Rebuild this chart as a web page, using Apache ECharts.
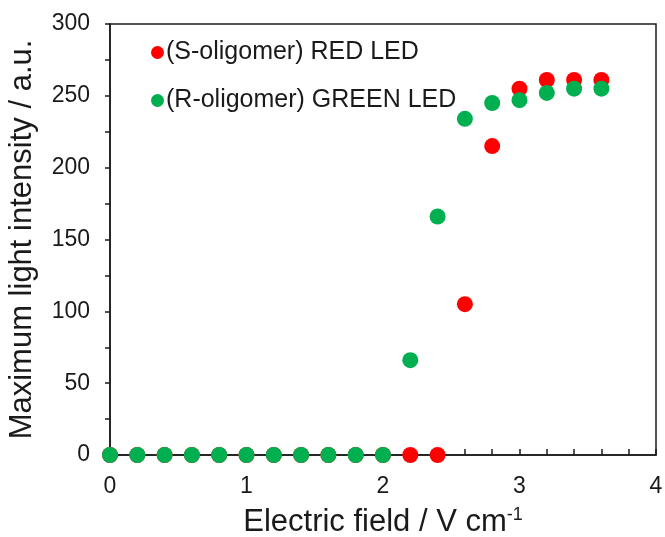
<!DOCTYPE html>
<html>
<head>
<meta charset="utf-8">
<script src="https://cdn.jsdelivr.net/npm/echarts@6/dist/echarts.min.js"></script>
<style>
html,body{margin:0;padding:0;background:#fff;}
#chart{width:665px;height:537px;}
</style>
</head>
<body>
<div id="chart"></div>
<script>
var fieldValues = [0, 0.2, 0.4, 0.6, 0.8, 1.0, 1.2, 1.4, 1.6, 1.8, 2.0, 2.2, 2.4, 2.6, 2.8, 3.0, 3.2, 3.4, 3.6];
var redValues   = [0, 0, 0, 0, 0, 0, 0, 0, 0, 0, 0, 0, 0, 105, 215, 255, 261, 261, 261];
var greenValues = [0, 0, 0, 0, 0, 0, 0, 0, 0, 0, 0, 66, 166, 234, 245, 247, 252, 255, 255];
var redName = '(S-oligomer) RED LED';
var greenName = '(R-oligomer) GREEN LED';

function pairs(xs, ys) { return xs.map(function (x, i) { return [x, ys[i]]; }); }

var chart = echarts.init(document.getElementById('chart'));
var font = 'Liberation Sans, Arial, Helvetica, sans-serif';
var ink = '#1a1a1a';
chart.setOption({
  animation: false,
  backgroundColor: '#fff',
  textStyle: { fontFamily: font },
  grid: { left: 110, right: 9, top: 24, bottom: 82, outerBoundsMode: 'none', containLabel: false, show: true, borderColor: ink, borderWidth: 1.5, backgroundColor: 'transparent' },
  legend: {
    orient: 'vertical',
    left: 151, top: 40,
    itemWidth: 13, itemHeight: 13, itemGap: 23, padding: 0,
    icon: 'circle',
    textStyle: { fontSize: 25, lineHeight: 25, color: ink, fontFamily: font, padding: [0, 0, 0, -3] },
    data: [redName, greenName]
  },
  xAxis: {
    type: 'value', min: 0, max: 4, interval: 1,
    name: 'Electric field / V cm{sup|-1}',
    nameLocation: 'middle', nameGap: 51,
    nameTextStyle: { fontSize: 31, color: ink, fontFamily: font, rich: { sup: { fontSize: 18, verticalAlign: 'top', padding: [0, 0, 14, 0], color: ink, fontFamily: font } } },
    axisLine: { show: true, lineStyle: { color: ink, width: 1.5 } },
    axisTick: { show: true, inside: true, length: 6, lineStyle: { color: ink, width: 1.5 } },
    minorTick: { show: true, splitNumber: 5, length: 6, lineStyle: { color: ink, width: 1.5 } },
    axisLabel: { fontSize: 23, color: ink, margin: 20, fontFamily: font },
    splitLine: { show: false }
  },
  yAxis: {
    type: 'value', min: 0, max: 300, interval: 50,
    name: 'Maximum light intensity / a.u.',
    nameLocation: 'middle', nameGap: 72,
    nameTextStyle: { fontSize: 31, color: ink, fontFamily: font },
    axisLine: { show: true, lineStyle: { color: ink, width: 1.5 } },
    axisTick: { show: true, inside: false, length: 5, lineStyle: { color: ink, width: 1.5 } },
    minorTick: { show: true, splitNumber: 2, length: 5, lineStyle: { color: ink, width: 1.5 } },
    axisLabel: { fontSize: 23, color: ink, margin: 20, fontFamily: font },
    splitLine: { show: false }
  },
  series: [
    { name: redName, type: 'scatter', symbolSize: 16, clip: false, itemStyle: { color: '#ff0000', opacity: 1 }, data: pairs(fieldValues, redValues) },
    { name: greenName, type: 'scatter', symbolSize: 16, clip: false, itemStyle: { color: '#00b050', opacity: 1 }, data: pairs(fieldValues, greenValues) }
  ]
});
</script>
</body>
</html>
